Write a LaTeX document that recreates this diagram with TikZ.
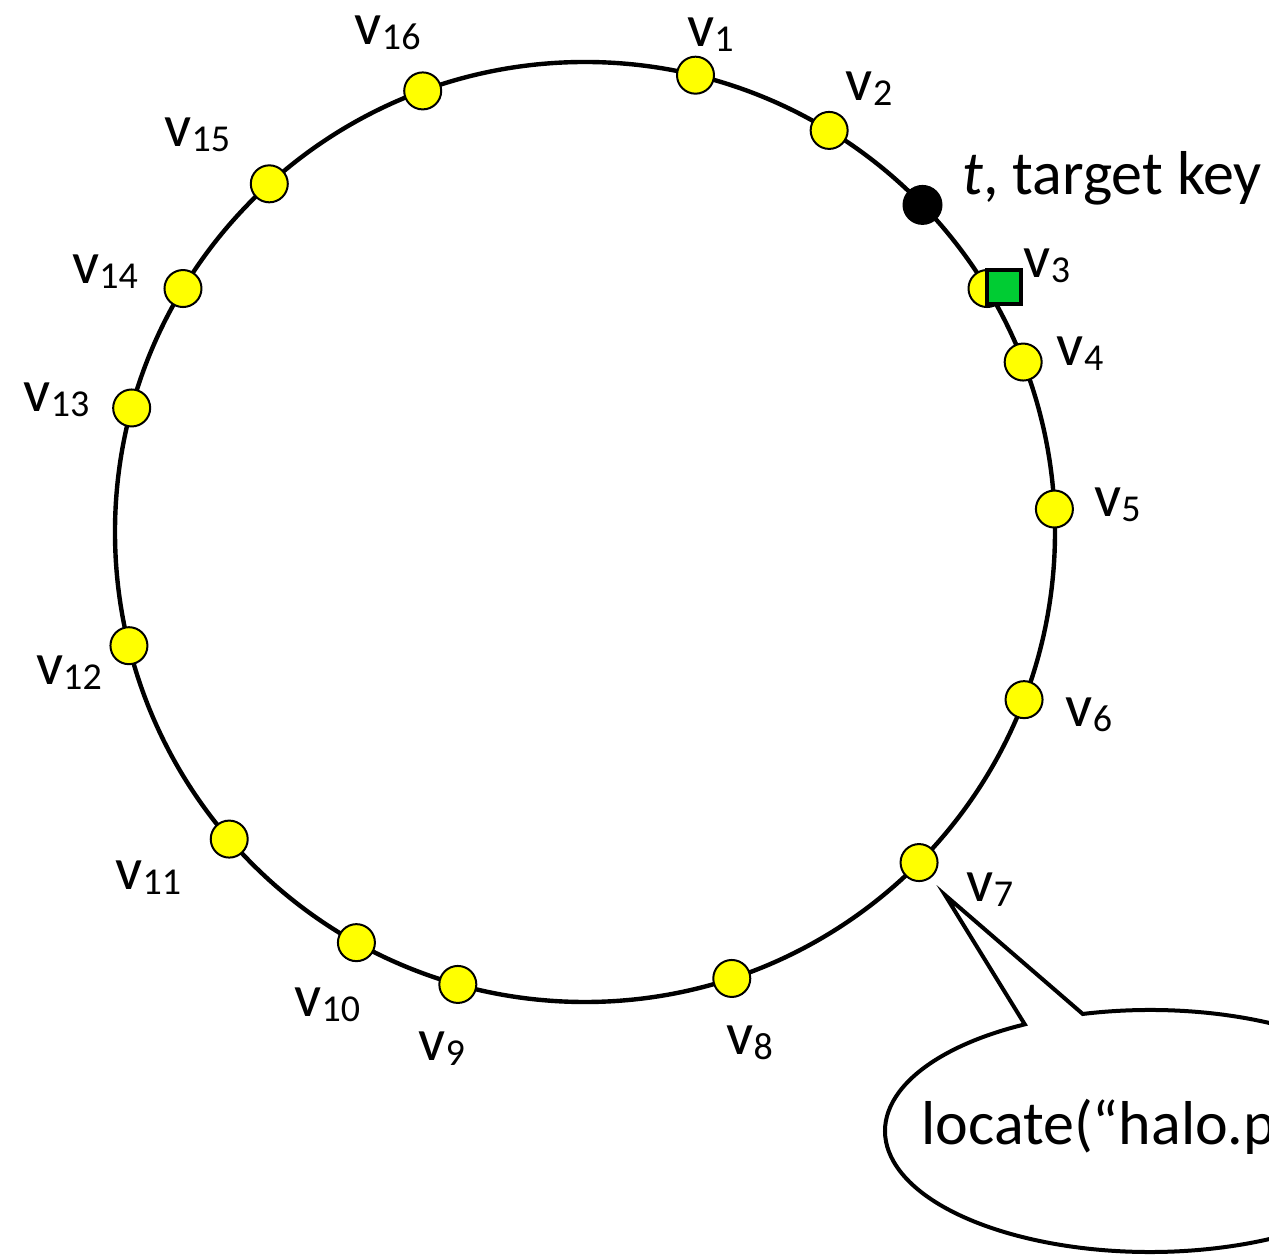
\documentclass[tikz,border=0pt]{standalone}
\usepackage{fontspec}
\setmainfont{Carlito}
\definecolor{peeryellow}{RGB}{255,255,0}
\definecolor{keygreen}{RGB}{0,204,51}
\newcommand{\vname}[1]{v\raisebox{-2.5pt}{\fontsize{19}{19}\selectfont #1}}

\begin{document}
\begin{tikzpicture}[x=0.5pt, y=0.5pt,
	peer/.style={circle, draw, line width=1pt, fill=peeryellow, minimum size=18.5pt, inner sep=0pt},
	vlabel/.style={inner sep=0pt, font=\fontsize{30}{30}\selectfont},
	bigtext/.style={inner sep=0pt, font=\fontsize{31}{36}\selectfont}]
			\useasboundingbox (-585,-724) rectangle (684,532);
			\clip (-585,-724) rectangle (684,532);

			\draw[line width=2.2pt] (0,0) circle (470);

			\node[peer] (v1) at (76.4:470) {};
			\node[peer] (v2) at (58.7:470) {};
			\node[peer] (v3) at (31.2:470) {};
			\node[peer] (v4) at (21.2:470) {};
			\node[peer] (v5) at (2.8:470) {};
			\node[peer] (v6) at (-20.9:470) {};
			\node[peer] (v7) at (-44.7:470) {};
			\node[peer] (v8) at (-71.8:470) {};
			\node[peer] (v9) at (-105.7:470) {};
			\node[peer] (v10) at (-119.1:470) {};
			\node[peer] (v11) at (-139.2:470) {};
			\node[peer] (v12) at (-166.0:470) {};
			\node[peer] (v13) at (164.7:470) {};
			\node[peer] (v14) at (148.8:470) {};
			\node[peer] (v15) at (132.2:470) {};
			\node[peer] (v16) at (110.2:470) {};

			\node[vlabel] (l1) at ([shift={(15,41)}]v1) {\vname{1}};
			\node[vlabel] (l2) at ([shift={(40,42)}]v2) {\vname{2}};
			\node[vlabel] (l3) at ([shift={(60,23)}]v3) {\vname{3}};
			\node[vlabel] (l4) at ([shift={(57,8)}]v4) {\vname{4}};
			\node[vlabel] (l5) at ([shift={(63,4)}]v5) {\vname{5}};
			\node[vlabel] (l6) at ([shift={(65,-15)}]v6) {\vname{6}};
			\node[vlabel] (l7) at ([shift={(71,-27)}]v7) {\vname{7}};
			\node[vlabel] (l8) at ([shift={(18,-64)}]v8) {\vname{8}};
			\node[vlabel] (l9) at ([shift={(-16,-64)}]v9) {\vname{9}};
			\node[vlabel] (l10) at ([shift={(-29,-62)}]v10) {\vname{10}};
			\node[vlabel] (l11) at ([shift={(-81,-39)}]v11) {\vname{11}};
			\node[vlabel] (l12) at ([shift={(-60,-27)}]v12) {\vname{12}};
			\node[vlabel] (l13) at ([shift={(-75,8)}]v13) {\vname{13}};
			\node[vlabel] (l14) at ([shift={(-78,17)}]v14) {\vname{14}};
			\node[vlabel] (l15) at ([shift={(-72,49)}]v15) {\vname{15}};
			\node[vlabel] (l16) at ([shift={(-35,58)}]v16) {\vname{16}};

			\node[circle, fill=black, minimum size=20pt, inner sep=0pt] (t) at (44.1:470) {};
			\node[bigtext, anchor=base west] (tlabel) at (377,337) {\textit{t}, target key};

			\node[draw, line width=2pt, fill=keygreen, minimum size=17pt, inner sep=0pt] (succ) at (419,245) {};

			\coordinate (tip) at (360,-363);
			\draw[line width=2pt, fill=white] (565,-599) ++(104.7:265 and 121)
				arc[start angle=104.7, end angle=-241.8, x radius=265, y radius=121] -- (tip) -- cycle;
			\node[bigtext, anchor=base west] (query) at (336,-613) {locate(“halo.p};

		\end{tikzpicture}
\end{document}
